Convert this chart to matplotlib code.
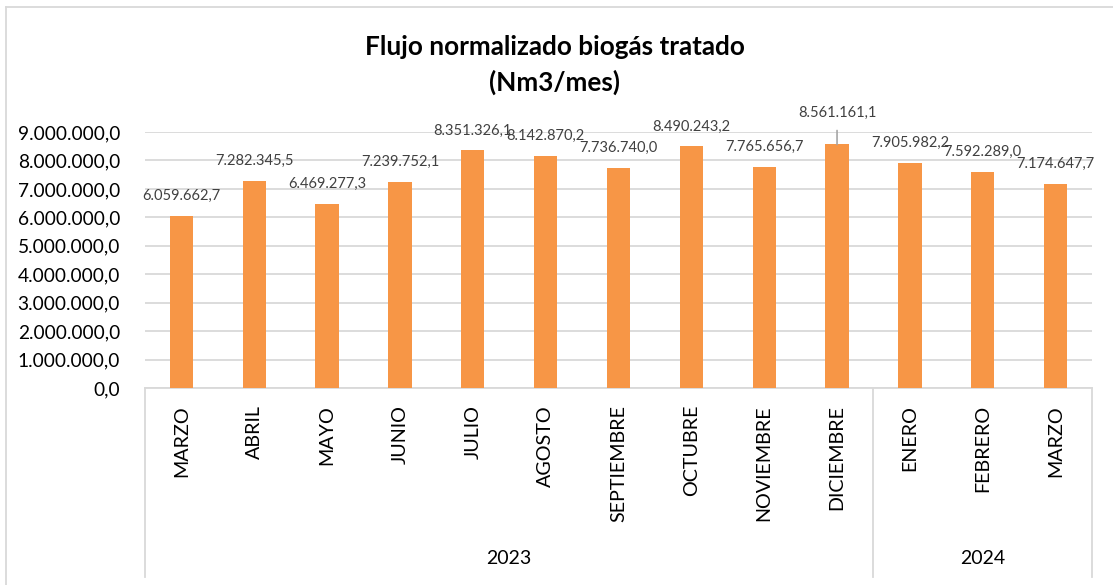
import matplotlib.pyplot as plt
import matplotlib.transforms as mtransforms
from matplotlib.lines import Line2D

months = ['MARZO', 'ABRIL', 'MAYO', 'JUNIO', 'JULIO', 'AGOSTO', 'SEPTIEMBRE',
          'OCTUBRE', 'NOVIEMBRE', 'DICIEMBRE', 'ENERO', 'FEBRERO', 'MARZO']
years = ['2023', '2024']
months_per_year = [10, 3]
flow = [6059662.7, 7282345.5, 6469277.3, 7239752.1, 8351326.1, 8142870.2, 7736740.0,
        8490243.2, 7765656.7, 8561161.1, 7905982.2, 7592289.0, 7174647.7]
yticks = [0, 1e6, 2e6, 3e6, 4e6, 5e6, 6e6, 7e6, 8e6, 9e6]

FONT = 'Lato'
GRID = '#d9d9d9'


def fmt_es(v, dec=1):
    s = '{:,.{}f}'.format(v, dec)
    return s.replace(',', '#').replace('.', ',').replace('#', '.')


fig = plt.figure(figsize=(11.13, 5.85), dpi=100)
ax = fig.add_axes([145 / 1113, 1 - 388 / 585, (1092 - 145) / 1113, (388 - 132) / 585])

x = list(range(len(flow)))
ax.bar(x, flow, width=0.32, color='#F79646', zorder=3)

ax.set_xlim(-0.5, len(flow) - 0.5)
ax.set_ylim(0, 9e6)
ax.set_yticks(yticks)
ax.set_yticklabels([fmt_es(v) for v in yticks], fontsize=13.8, family=FONT, color='#000000')
ax.tick_params(axis='y', length=0, pad=18)
ax.grid(axis='y', color=GRID, linewidth=1.3, zorder=0)
for s in ['left', 'right', 'top']:
    ax.spines[s].set_visible(False)
ax.spines['bottom'].set_color(GRID)
ax.spines['bottom'].set_linewidth(1.3)
ax.set_xticks([])

# data labels
for i, v in enumerate(flow):
    off = 20
    if months[i] == 'DICIEMBRE':
        off = 32
        ax.annotate('', xy=(i, v), xytext=(0, 14), textcoords='offset pixels',
                    arrowprops=dict(arrowstyle='-', color='#a6a6a6', lw=1.2,
                                    shrinkA=0, shrinkB=0), annotation_clip=False)
    ax.annotate(fmt_es(v), xy=(i, v), xytext=(0, off), textcoords='offset pixels',
                ha='center', va='center', fontsize=10.5, family=FONT, color='#404040',
                annotation_clip=False)

# month labels and year groups
trans = mtransforms.blended_transform_factory(ax.transData, ax.transAxes)
px = 1 / 256
for i, m in enumerate(months):
    ax.text(i, -17 * px, m, rotation=90, ha='center', va='top', fontsize=14.2,
            family=FONT, transform=trans)
start = -0.5
seps = [start]
for yr, n in zip(years, months_per_year):
    ax.text(start + n / 2, -170 * px, yr, ha='center', va='center', fontsize=14,
            family=FONT, transform=trans)
    start += n
    seps.append(start)
for s in seps:
    ax.add_line(Line2D([s, s], [0, -189 * px], color=GRID, lw=1.3, transform=trans,
                       clip_on=False))

fig.text(555 / 1113, 1 - 47 / 585, 'Flujo normalizado biogás tratado', ha='center',
         va='center', fontsize=18.8, fontweight='bold', family=FONT)
fig.text(555 / 1113, 1 - 82 / 585, '(Nm3/mes)', ha='center', va='center', fontsize=18.8,
         fontweight='bold', family=FONT)

# chart border
fig.add_artist(Line2D([6 / 1113, 6 / 1113], [0, 1 - 7 / 585], color=GRID, lw=1.3))
fig.add_artist(Line2D([6 / 1113, 1], [1 - 7 / 585, 1 - 7 / 585], color=GRID, lw=1.3))

fig.savefig('out.png', dpi=100)
